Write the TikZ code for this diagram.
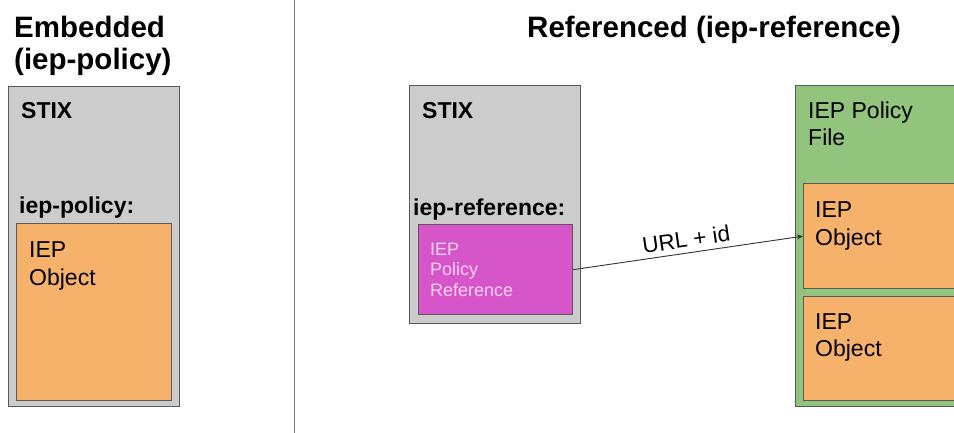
\documentclass[tikz,border=0pt]{standalone}
\usepackage{fontspec}
\setmainfont{Liberation Sans}
\usetikzlibrary{arrows.meta}
\definecolor{boxgray}{HTML}{CCCCCC}
\definecolor{boxorange}{HTML}{F6B26B}
\definecolor{boxgreen}{HTML}{93C47D}
\definecolor{boxmagenta}{HTML}{D655C9}
\definecolor{edgegray}{HTML}{595959}
\definecolor{pinktext}{HTML}{F6D2F0}
\begin{document}
\begin{tikzpicture}[x=1pt,y=-1pt,
  boxbase/.style={draw=edgegray,line width=1.3pt,anchor=north west,inner sep=0pt},
  graybox/.style={boxbase,fill=boxgray},
  orangebox/.style={boxbase,fill=boxorange},
  greenbox/.style={boxbase,fill=boxgreen},
  magentabox/.style={boxbase,fill=boxmagenta},
  title/.style={anchor=base west,inner sep=0pt,font=\fontsize{29.5}{34}\selectfont\bfseries},
  boldlabel/.style={anchor=base west,inner sep=0pt,font=\fontsize{23}{27}\selectfont\bfseries},
  plain/.style={anchor=base west,inner sep=0pt,font=\fontsize{23}{27}\selectfont},
  small/.style={anchor=base west,inner sep=0pt,font=\fontsize{18}{21}\selectfont,text=pinktext},
  conn/.style={draw=black!80,line width=0.9pt,-{Stealth[length=6pt,width=5pt]}}
]
\clip (0,0) rectangle (954,433);
\fill[white] (0,0) rectangle (954,433);

% titles
\node[title] (t1) at (14,38) {Embedded};
\node[title] (t2) at (14,70) {(iep-policy)};
\node[title] (t3) at (527,38) {Referenced (iep-reference)};

% divider
\coordinate (dtop) at (294,0);
\coordinate (dbot) at (294,433);
\draw[gray,line width=1pt] (dtop) -- (dbot);

% left STIX box
\node[graybox,minimum width=171pt,minimum height=320pt] (stixL) at (8,86) {};
\node[boldlabel] (stixLt) at (21,119) {STIX};
\node[boldlabel] (polL) at (19,214) {iep-policy:};
\node[orangebox,minimum width=155pt,minimum height=177pt] (objL) at (16,223) {};
\node[plain] (objL1) at (29,258) {IEP};
\node[plain] (objL2) at (29,285) {Object};

% middle STIX box
\node[graybox,minimum width=171pt,minimum height=238pt] (stixM) at (409,85) {};
\node[boldlabel] (stixMt) at (422,119) {STIX};
\node[boldlabel] (refM) at (413,215) {iep-reference:};
\node[magentabox,minimum width=154pt,minimum height=90pt] (mag) at (418,224) {};
\node[small] (m1) at (430,255) {IEP};
\node[small] (m2) at (430,276) {Policy};
\node[small] (m3) at (430,296) {Reference};

% green policy file
\node[greenbox,minimum width=175pt,minimum height=321pt] (green) at (795,85) {};
\node[plain] (g1) at (808,119) {IEP Policy};
\node[plain] (g2) at (808,146) {File};
\node[orangebox,minimum width=160pt,minimum height=105pt] (o1) at (803,183) {};
\node[plain] (o1a) at (815,218) {IEP};
\node[plain] (o1b) at (815,245) {Object};
\node[orangebox,minimum width=160pt,minimum height=104pt] (o2) at (803,296) {};
\node[plain] (o2a) at (815,329) {IEP};
\node[plain] (o2b) at (815,356) {Object};

% connector
\draw[conn] (mag.east) -- node[sloped,above,inner sep=5pt,font=\fontsize{22.5}{26}\selectfont] {URL + id} (o1.west);
\end{tikzpicture}
\end{document}
